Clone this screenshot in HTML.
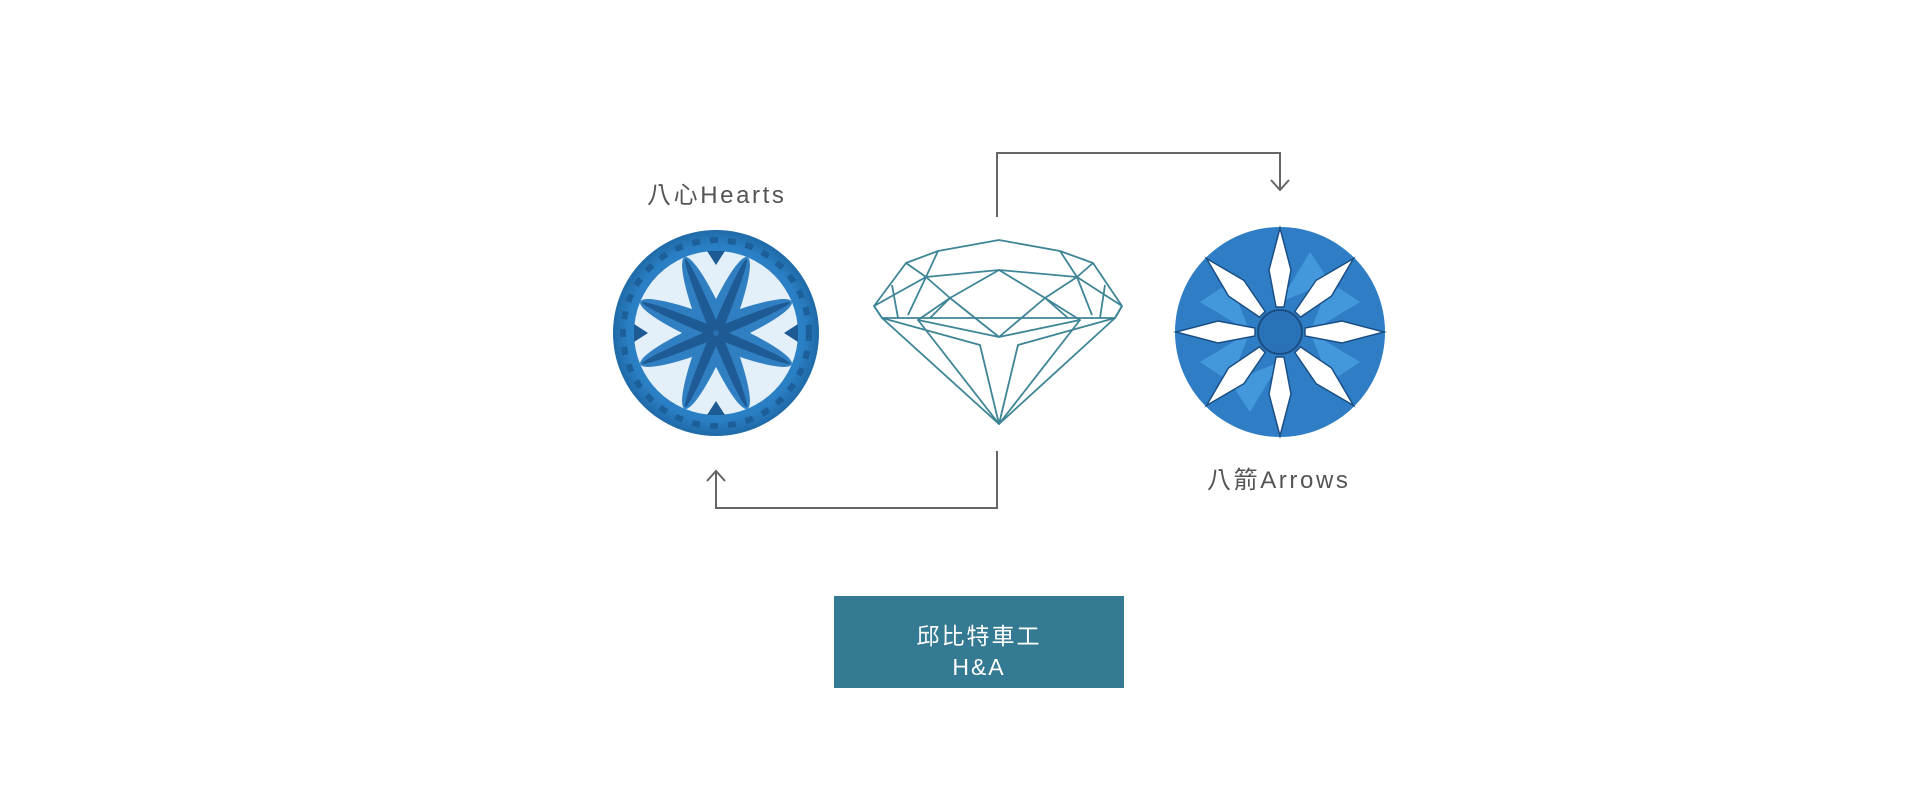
<!DOCTYPE html>
<html><head><meta charset="utf-8"><style>
html,body{margin:0;padding:0;background:#fff;}
body{width:1920px;height:808px;position:relative;overflow:hidden;font-family:"Liberation Sans","Noto Sans CJK TC",sans-serif;}
.lbl{position:absolute;color:#555;font-size:24px;letter-spacing:2.6px;white-space:nowrap;}
.box{position:absolute;left:834px;top:596px;width:290px;height:92px;background:#357a93;color:#fff;text-align:center;font-size:23px;line-height:31px;letter-spacing:2px;}
</style></head><body>
<svg width="1920" height="808" style="position:absolute;left:0;top:0">
<defs>
<radialGradient id="bg" cx="50%" cy="50%" r="50%">
<stop offset="0" stop-color="#3c93d8"/><stop offset="0.85" stop-color="#2a7fc4"/><stop offset="1" stop-color="#1f6aa8"/>
</radialGradient>
</defs>
<g fill="none" stroke="#666" stroke-width="2">
<polyline points="997,217 997,153 1280,153 1280,190"/>
<polyline points="1271,180 1280,190 1289,180"/>
<polyline points="997,451 997,508 716,508 716,471"/>
<polyline points="707,481 716,471 725,481"/>
</g>
<!-- hearts gem -->
<g transform="translate(716,333)">
<circle r="103" fill="url(#bg)"/>
<circle r="93" fill="none" stroke="#1d5f99" stroke-width="6" stroke-dasharray="8 10"/>
<circle r="82" fill="#e3f0fa"/>
<g fill="#2f7fc2">
<ellipse rx="14" ry="82" transform="rotate(22.5)"/>
<ellipse rx="14" ry="82" transform="rotate(67.5)"/>
<ellipse rx="14" ry="82" transform="rotate(112.5)"/>
<ellipse rx="14" ry="82" transform="rotate(157.5)"/>
</g>
<g fill="#1e5a94">
<ellipse rx="5" ry="80" transform="rotate(22.5)"/>
<ellipse rx="5" ry="80" transform="rotate(67.5)"/>
<ellipse rx="5" ry="80" transform="rotate(112.5)"/>
<ellipse rx="5" ry="80" transform="rotate(157.5)"/>
</g>
<g fill="#1e5a94">
<path d="M-9,-82 L0,-68 L9,-82Z"/><path d="M-9,82 L0,68 L9,82Z"/>
<path d="M-82,-9 L-68,0 L-82,9Z"/><path d="M82,-9 L68,0 L82,9Z"/>
</g>
<circle r="3" fill="#2a6fb0"/>
</g>
<!-- arrows gem -->
<g transform="translate(1280,332)">
<circle r="105" fill="#2f7ec5"/>
<g fill="#55aef0" opacity="0.55">
<path d="M0,-30 L30,-80 L50,-50Z"/><path d="M30,0 L80,30 L50,50Z"/>
<path d="M0,30 L-30,80 L-50,50Z"/><path d="M-30,0 L-80,-30 L-50,-50Z"/>
<path d="M30,0 L80,-30 L50,-50Z"/><path d="M-30,0 L-80,30 L-50,50Z"/>
</g>
<g fill="#fff" stroke="#1a4f85" stroke-width="1.5">
<path d="M-4,-25 L-11,-62 L0,-104 L11,-62 L4,-25Z"/>
<path d="M-4,-25 L-11,-62 L0,-104 L11,-62 L4,-25Z" transform="rotate(45)"/>
<path d="M-4,-25 L-11,-62 L0,-104 L11,-62 L4,-25Z" transform="rotate(90)"/>
<path d="M-4,-25 L-11,-62 L0,-104 L11,-62 L4,-25Z" transform="rotate(135)"/>
<path d="M-4,-25 L-11,-62 L0,-104 L11,-62 L4,-25Z" transform="rotate(180)"/>
<path d="M-4,-25 L-11,-62 L0,-104 L11,-62 L4,-25Z" transform="rotate(225)"/>
<path d="M-4,-25 L-11,-62 L0,-104 L11,-62 L4,-25Z" transform="rotate(270)"/>
<path d="M-4,-25 L-11,-62 L0,-104 L11,-62 L4,-25Z" transform="rotate(315)"/>
</g>
<circle r="22" fill="#2a72b8" stroke="#1a4f85" stroke-width="2"/>
</g>
<!-- diamond outline -->
<g fill="none" stroke="#3e8596" stroke-width="1.8" stroke-linejoin="round">
<polygon points="874,306 906,263 938,251 999,240 1060,251 1093,263 1122,306 1115,318 999,424 882,318"/>
<polyline points="874,306 882,318 1115,318 1122,306"/>
<polyline points="938,251 926,277 999,270 1077,277 1060,251"/>
<polyline points="906,263 926,277 908,315"/><polyline points="1093,263 1077,277 1092,315"/>
<polyline points="874,306 926,277"/><polyline points="1122,306 1077,277"/>
<polyline points="926,277 950,298 999,270 1045,298 1077,277"/>
<polyline points="950,298 918,320 999,337 1080,320 1045,298"/>
<polyline points="950,298 999,337 1045,298"/>
<polyline points="918,320 999,424 1080,320"/>
<polyline points="882,318 980,345 999,424 1018,345 1115,318"/>
<polyline points="950,298 930,318"/><polyline points="1045,298 1068,318"/>
<polyline points="1105,285 1100,318"/><polyline points="892,285 898,318"/>
</g>
</svg>
<div class="lbl" style="left:647px;top:175px;">八心Hearts</div>
<div class="lbl" style="left:1207px;top:460px;">八箭Arrows</div>
<div class="box"><div style="margin-top:25px">邱比特車工</div><div>H&amp;A</div></div>
</body></html>
